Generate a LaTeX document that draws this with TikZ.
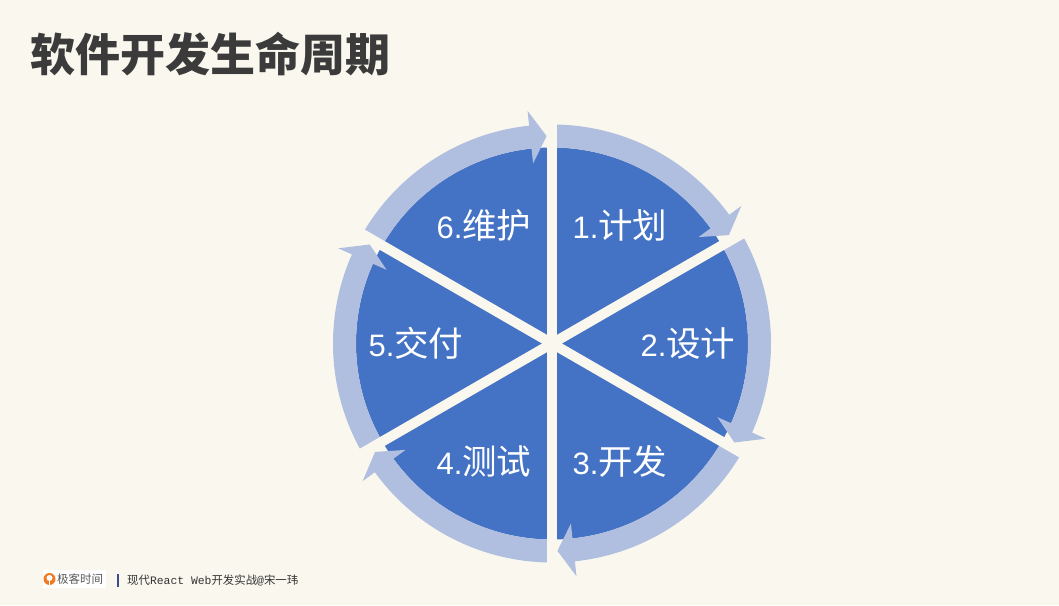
\documentclass[tikz,border=0pt]{standalone}
\usepackage{fontspec}
\setmainfont{Liberation Sans}
\newfontfamily\cjk{Noto Sans CJK SC}
\newfontfamily\monof{Liberation Mono}
\usepackage{tikz}
\definecolor{paper}{HTML}{FAF8EE}
\definecolor{pieblue}{HTML}{4472C4}
\definecolor{ringblue}{HTML}{B0BEDF}
\definecolor{titlegray}{HTML}{3B3B3B}
\definecolor{logoorange}{HTML}{EE7A22}
\definecolor{barblue}{HTML}{3A4E8C}
\newcommand{\stagecjk}[1]{{\cjk\fontsize{34.5}{34.5}\selectfont #1}}

\begin{document}
\begin{tikzpicture}[x=1pt, y=1pt, every node/.style={inner sep=0pt}, sector/.style={fill=pieblue}, ringarrow/.style={fill=ringblue}, gap/.style={draw=paper, line width=10pt}, stagelabel/.style={text=white, font=\fontsize{31}{31}\selectfont}]
	\fill[paper] (0,0) rectangle (1059,605);
	\useasboundingbox (0,0) rectangle (1059,605);
	\node[anchor=west, text=titlegray, font=\cjk\bfseries\fontsize{45}{45}\selectfont] (title) at (30,551) {软件开发生命周期};
	\begin{scope}[shift={(552,261.5)}]
		\coordinate (hub) at (0,0);
		\foreach \a in {30,90,...,330}
			\fill[sector] (hub) -- (\a:196) arc[start angle=\a, end angle=\a+60, radius=196] -- cycle;
		\foreach \b in {30,90,...,330}
			\fill[ringarrow] ({\b+59}:219) arc[start angle=\b+59, end angle=\b+6, radius=219] -- ({\b+6}:234) -- ({\b+1.5}:207.5) -- ({\b+6}:181) -- ({\b+6}:196) arc[start angle=\b+6, end angle=\b+59, radius=196] -- cycle;
		\foreach \b in {30,90,...,330}
			\draw[gap] (hub) -- (\b:226);
		\foreach \n/\a/\t in {1/60/计划, 2/0/设计, 3/-60/开发, 4/-120/测试, 5/180/交付, 6/120/维护}
			\node[stagelabel] (stage\n) at (\a:136) {\n.\stagecjk{\t}};
	\end{scope}
	\node[fill=white, minimum width=63, minimum height=18] (logo) at (74.5,26) {};
	\fill[logoorange] (49.5,26) circle (6);
	\fill[white] (49.5,27) circle (3);
	\fill[white] (48.6,20.5) rectangle (50.4,25);
	\node[anchor=west, text=black!65, font=\cjk\fontsize{11.5}{11.5}\selectfont] (logotext) at (57,26) {极客时间};
	\fill[barblue] (117,18) rectangle (119,31);
	\node[anchor=west, text=black!80, font=\fontsize{11.4}{11.4}\selectfont] (course) at (127,25) {{\cjk 现代}{\monof React Web}{\cjk 开发实战}{\monof @}{\cjk 宋一玮}};
\end{tikzpicture}
\end{document}
